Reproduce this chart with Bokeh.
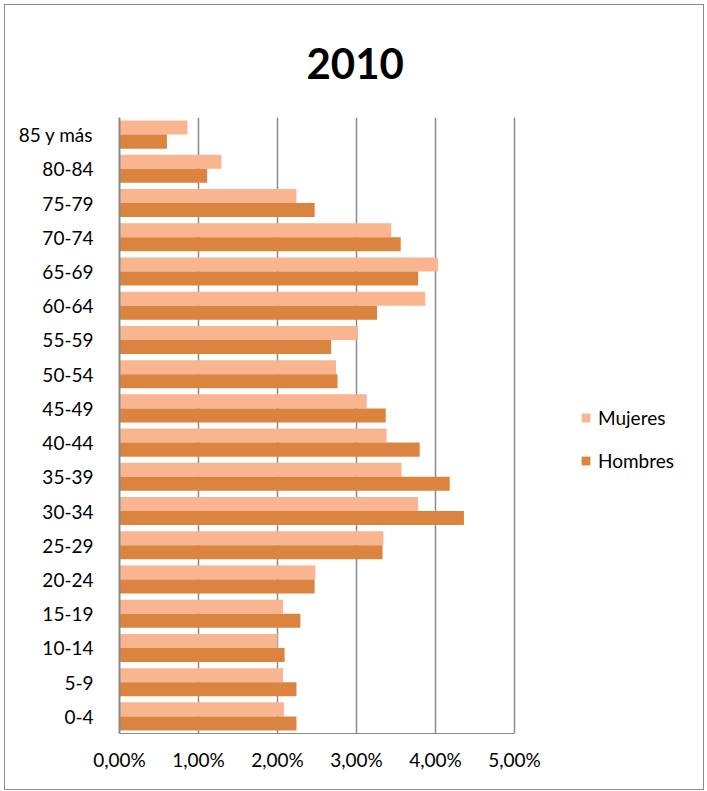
from bokeh.plotting import figure
from bokeh.models import (FactorRange, Range1d, FixedTicker, Legend, LegendItem,
                          ColumnDataSource)
from bokeh.transform import dodge
from bokeh.embed import file_html
from bokeh.resources import INLINE

# Data (percent of total population), categories bottom -> top
ages = ["0-4", "5-9", "10-14", "15-19", "20-24", "25-29", "30-34", "35-39",
        "40-44", "45-49", "50-54", "55-59", "60-64", "65-69", "70-74",
        "75-79", "80-84", "85 y más"]
mujeres = [2.08, 2.07, 2.00, 2.07, 2.48, 3.34, 3.78, 3.57, 3.38, 3.13,
           2.74, 3.02, 3.87, 4.03, 3.44, 2.24, 1.29, 0.86]
hombres = [2.24, 2.24, 2.09, 2.29, 2.47, 3.33, 4.36, 4.18, 3.80, 3.37,
           2.76, 2.68, 3.26, 3.78, 3.56, 2.47, 1.11, 0.60]
x_ticks = [0, 1, 2, 3, 4, 5]
x_tick_labels = ["0,00%", "1,00%", "2,00%", "3,00%", "4,00%", "5,00%"]
title_text = "2010"
series_names = ["Mujeres", "Hombres"]

FONT = "Lato"
C_M = "#F9B590"
C_H = "#DB843F"
GRID = "#8a8a8a"

# layout (pixels)
W, H = 700, 786
ML, MT = 114, 112
FRAME_W, FRAME_H = 580, 616
MR = W - ML - FRAME_W
MB = H - MT - FRAME_H
AXIS_W = 395  # pixels spanned by 0..5 %
x_end = x_ticks[-1] * FRAME_W / AXIS_W

source = ColumnDataSource(dict(age=ages, mujeres=mujeres, hombres=hombres))

p = figure(width=W, height=H,
           y_range=FactorRange(factors=ages), x_range=Range1d(0, x_end),
           output_backend="svg", toolbar_location=None,
           min_border_left=ML, min_border_top=MT,
           min_border_right=MR, min_border_bottom=MB)
p.styles = {"border": "1px solid #8c8c8c", "margin-left": "4px",
            "margin-top": "4px"}
p.outline_line_color = None
p.background_fill_color = "white"
p.border_fill_color = "white"

rm = p.hbar(y=dodge("age", 0.205, range=p.y_range), right="mujeres", left=0,
            height=0.41, source=source, fill_color=C_M, line_color=None)
rh = p.hbar(y=dodge("age", -0.205, range=p.y_range), right="hombres", left=0,
            height=0.41, source=source, fill_color=C_H, line_color=None)

# Title
p.title.text = title_text
p.title.align = "left"
p.title.text_font = FONT
p.title.text_font_style = "bold"
p.title.text_font_size = "42px"
p.title.text_color = "black"
p.title.offset = 187
p.title.standoff = 77

# X axis
xa = p.xaxis[0]
xa.ticker = FixedTicker(ticks=x_ticks)
xa.bounds = (x_ticks[0], x_ticks[-1])
xa.major_label_overrides = {t: l for t, l in zip(x_ticks, x_tick_labels)}
xa.major_tick_line_color = None
xa.minor_tick_line_color = None
xa.axis_line_color = GRID
xa.axis_line_width = 1
xa.major_label_standoff = 8
xa.major_label_text_font = FONT
xa.major_label_text_font_size = "19px"
xa.major_label_text_color = "black"

# Y axis
ya = p.yaxis[0]
ya.major_tick_line_color = None
ya.minor_tick_line_color = None
ya.axis_line_color = GRID
ya.axis_line_width = 2
ya.major_label_standoff = 20
ya.major_label_text_font = FONT
ya.major_label_text_font_size = "19px"
ya.major_label_text_color = "black"

p.ygrid.grid_line_color = None
p.xgrid.grid_line_color = GRID
p.xgrid.grid_line_width = 1.5
p.xgrid.ticker = FixedTicker(ticks=x_ticks)

legend = Legend(items=[LegendItem(label=series_names[0], renderers=[rm]),
                       LegendItem(label=series_names[1], renderers=[rh])],
                location=(461, 261), orientation="vertical",
                glyph_width=11, glyph_height=11, label_height=20,
                spacing=20, padding=0, margin=0, label_standoff=7,
                border_line_color=None, background_fill_alpha=0,
                label_text_font=FONT, label_text_font_size="19px",
                label_text_color="black")
p.add_layout(legend)

open("out.html", "w").write(file_html(p, INLINE))
